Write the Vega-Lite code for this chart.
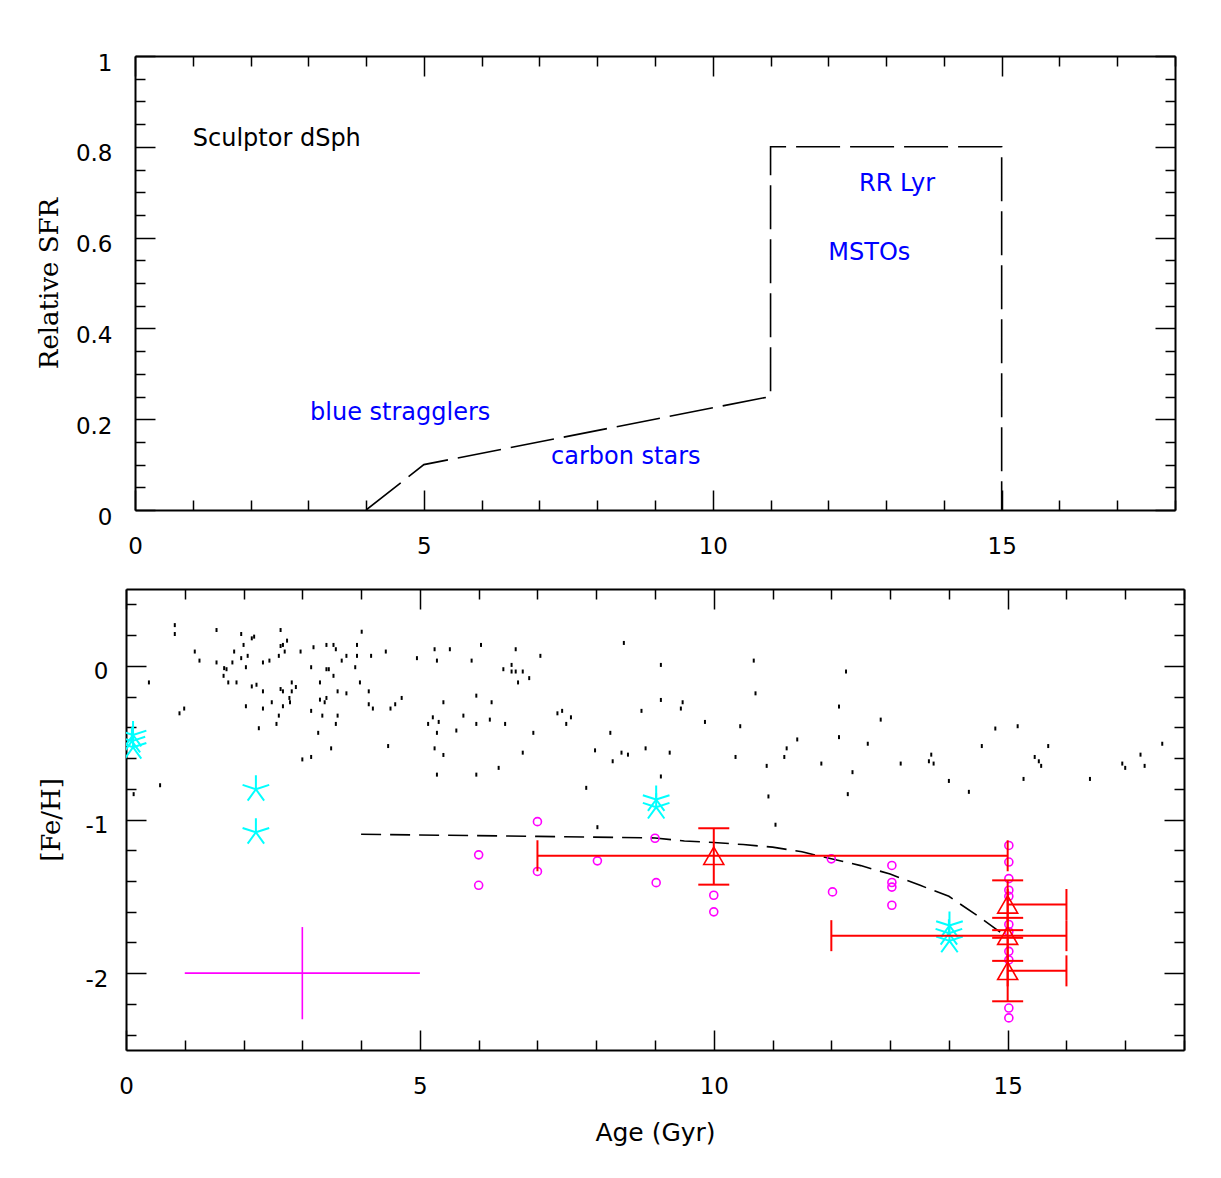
{
  "$schema": "https://vega.github.io/schema/vega-lite/v6.json",
  "background": "white",
  "padding": {"left": 36, "top": 52, "right": 10, "bottom": 10},
  "bounds": "flush",
  "spacing": 79,
  "config": {
    "view": {"stroke": null},
    "axis": {
      "grid": false,
      "domainColor": "black",
      "domainWidth": 2,
      "tickColor": "black",
      "tickWidth": 1.5,
      "labelFont": "DejaVu Sans",
      "labelFontSize": 23,
      "labelColor": "black",
      "labelOverlap": false,
      "labelFlush": false,
      "labelBound": false,
      "titleFont": "DejaVu Serif",
      "titleFontSize": 26,
      "titleFontWeight": "normal",
      "titleColor": "black"
    }
  },
  "datasets": {
    "sfr": [
      {"i": 1, "age": 4, "sfr": 0},
      {"i": 2, "age": 5, "sfr": 0.1},
      {"i": 3, "age": 11, "sfr": 0.25},
      {"i": 4, "age": 11, "sfr": 0.8},
      {"i": 5, "age": 15, "sfr": 0.8},
      {"i": 6, "age": 15, "sfr": 0}
    ],
    "bluelabels": [
      {"x": 3.03, "y": 0.22, "label": "blue stragglers"},
      {"x": 7.2, "y": 0.123, "label": "carbon stars"},
      {"x": 12.53, "y": 0.725, "label": "RR Lyr"},
      {"x": 12.0, "y": 0.573, "label": "MSTOs"}
    ],
    "blacklabels": [
      {"x": 1.0, "y": 0.824, "label": "Sculptor dSph"}
    ],
    "dots": [
      {"age":0.83,"feh":0.265},{"age":0.83,"feh":0.207},{"age":0.39,"feh":-0.108},{"age":0.91,"feh":-0.309},{"age":0.99,"feh":-0.278},{"age":0.13,"feh":-0.835},{"age":0.58,"feh":-0.777},{"age":1.17,"feh":0.093},{"age":1.25,"feh":0.034},{"age":1.54,"feh":0.233},{"age":1.54,"feh":0.022},{"age":1.66,"feh":-0.065},{"age":1.67,"feh":-0.015},{"age":1.71,"feh":-0.022},{"age":1.74,"feh":-0.108},{"age":1.81,"feh":0.022},{"age":1.84,"feh":0.093},{"age":1.88,"feh":-0.108},{"age":1.96,"feh":0.207},{"age":1.96,"feh":0.05},{"age":2.0,"feh":0.136},{"age":2.04,"feh":-0.009},{"age":2.07,"feh":0.065},{"age":2.04,"feh":-0.263},{"age":2.14,"feh":0.179},{"age":2.18,"feh":0.19},{"age":2.14,"feh":-0.134},{"age":2.22,"feh":-0.123},{"age":2.26,"feh":-0.406},{"age":2.33,"feh":0.022},{"age":2.33,"feh":-0.166},{"age":2.33,"feh":-0.278},{"age":2.44,"feh":0.034},{"age":2.48,"feh":-0.237},{"age":2.56,"feh":-0.378},{"age":2.6,"feh":-0.324},{"age":2.6,"feh":0.065},{"age":2.63,"feh":0.233},{"age":2.63,"feh":0.129},{"age":2.67,"feh":0.136},{"age":2.7,"feh":0.093},{"age":2.74,"feh":0.164},{"age":2.63,"feh":-0.151},{"age":2.67,"feh":-0.166},{"age":2.67,"feh":-0.263},{"age":2.78,"feh":-0.209},{"age":2.79,"feh":-0.237},{"age":2.82,"feh":-0.108},{"age":2.82,"feh":-0.166},{"age":2.89,"feh":-0.138},{"age":2.97,"feh":0.093},{"age":3.0,"feh":-0.609},{"age":3.15,"feh":-0.009},{"age":3.15,"feh":-0.293},{"age":3.15,"feh":-0.593},{"age":3.19,"feh":0.121},{"age":3.27,"feh":-0.436},{"age":3.3,"feh":-0.108},{"age":3.3,"feh":-0.22},{"age":3.34,"feh":-0.324},{"age":3.38,"feh":-0.237},{"age":3.41,"feh":-0.209},{"age":3.41,"feh":0.136},{"age":3.41,"feh":-0.022},{"age":3.45,"feh":-0.022},{"age":3.53,"feh":0.136},{"age":3.57,"feh":0.108},{"age":3.53,"feh":-0.065},{"age":3.49,"feh":-0.537},{"age":3.57,"feh":-0.378},{"age":3.6,"feh":-0.324},{"age":3.6,"feh":-0.166},{"age":3.67,"feh":0.034},{"age":3.75,"feh":0.065},{"age":3.75,"feh":-0.179},{"age":3.9,"feh":-0.009},{"age":3.93,"feh":0.136},{"age":3.93,"feh":0.065},{"age":3.98,"feh":-0.108},{"age":4.01,"feh":0.222},{"age":4.13,"feh":-0.166},{"age":4.13,"feh":-0.25},{"age":4.17,"feh":0.065},{"age":4.2,"feh":-0.278},{"age":4.42,"feh":0.093},{"age":4.46,"feh":-0.522},{"age":4.5,"feh":-0.278},{"age":4.58,"feh":-0.25},{"age":4.69,"feh":-0.209},{"age":4.95,"feh":0.05},{"age":5.14,"feh":-0.378},{"age":5.22,"feh":-0.335},{"age":5.25,"feh":0.108},{"age":5.29,"feh":0.034},{"age":5.29,"feh":-0.436},{"age":5.32,"feh":-0.365},{"age":5.25,"feh":-0.537},{"age":5.4,"feh":-0.58},{"age":5.29,"feh":-0.708},{"age":5.4,"feh":-0.237},{"age":5.51,"feh":0.108},{"age":5.62,"feh":-0.421},{"age":5.74,"feh":-0.324},{"age":5.88,"feh":0.034},{"age":5.96,"feh":-0.194},{"age":5.96,"feh":-0.378},{"age":5.96,"feh":-0.708},{"age":6.04,"feh":0.136},{"age":6.19,"feh":-0.35},{"age":6.22,"feh":-0.237},{"age":6.34,"feh":-0.664},{"age":6.42,"feh":-0.022},{"age":6.45,"feh":-0.378},{"age":6.56,"feh":0.006},{"age":6.56,"feh":-0.037},{"age":6.63,"feh":0.108},{"age":6.63,"feh":-0.037},{"age":6.67,"feh":-0.108},{"age":6.75,"feh":-0.037},{"age":6.75,"feh":-0.565},{"age":6.86,"feh":-0.08},{"age":6.93,"feh":-0.436},{"age":7.05,"feh":0.065},
      {"age":7.34,"feh":-0.309},{"age":7.42,"feh":-0.293},{"age":7.49,"feh":-0.378},{"age":7.57,"feh":-0.335},{"age":7.83,"feh":-0.794},{"age":7.98,"feh":-0.55},{"age":8.02,"feh":-1.05},{"age":8.24,"feh":-0.436},{"age":8.28,"feh":-0.621},{"age":8.43,"feh":-0.565},{"age":8.47,"feh":0.149},{"age":8.54,"feh":-0.578},{"age":8.77,"feh":-0.293},{"age":8.84,"feh":-0.537},{"age":9.1,"feh":0.006},{"age":9.1,"feh":-0.222},{"age":9.1,"feh":-0.72},{"age":9.25,"feh":-0.565},{"age":9.44,"feh":-0.278},{"age":9.47,"feh":-0.237},{"age":9.85,"feh":-0.365},{"age":10.37,"feh":-0.593},{"age":10.45,"feh":-0.393},{"age":10.68,"feh":0.034},{"age":10.71,"feh":-0.179},{"age":10.9,"feh":-0.651},{"age":10.93,"feh":-0.85},{"age":11.05,"feh":-1.034},{"age":11.2,"feh":-0.593},{"age":11.24,"feh":-0.537},{"age":11.42,"feh":-0.479},{"age":11.83,"feh":-0.636},{"age":12.13,"feh":-0.265},{"age":12.13,"feh":-0.464},{"age":12.25,"feh":-0.037},{"age":12.28,"feh":-0.835},{"age":12.36,"feh":-0.692},{"age":12.62,"feh":-0.507},{"age":12.84,"feh":-0.35},
      {"age":13.18,"feh":-0.636},{"age":13.66,"feh":-0.621},{"age":13.7,"feh":-0.578},{"age":13.74,"feh":-0.636},{"age":14.0,"feh":-0.749},{"age":14.34,"feh":-0.82},{"age":14.56,"feh":-0.522},{"age":14.79,"feh":-0.408},{"age":15.17,"feh":-0.393},{"age":15.27,"feh":-0.736},{"age":15.46,"feh":-0.593},{"age":15.53,"feh":-0.621},{"age":15.57,"feh":-0.651},{"age":15.69,"feh":-0.522},{"age":16.4,"feh":-0.736},{"age":16.95,"feh":-0.636},{"age":17.0,"feh":-0.664},{"age":17.26,"feh":-0.578},{"age":17.33,"feh":-0.651},{"age":17.63,"feh":-0.507}
    ],
    "model": [
      {"i":1,"age":4,"feh":-1.096},{"i":2,"age":7,"feh":-1.11},{"i":3,"age":9,"feh":-1.12},{"i":4,"age":9.5,"feh":-1.14},{"i":5,"age":10,"feh":-1.15},{"i":6,"age":10.5,"feh":-1.163},{"i":7,"age":11,"feh":-1.18},{"i":8,"age":11.5,"feh":-1.21},{"i":9,"age":12,"feh":-1.256},{"i":10,"age":12.5,"feh":-1.3},{"i":11,"age":13,"feh":-1.355},{"i":12,"age":13.5,"feh":-1.427},{"i":13,"age":14,"feh":-1.5},{"i":14,"age":14.5,"feh":-1.63},{"i":15,"age":14.95,"feh":-1.755}
    ],
    "stars": [
      {"age":0.12,"feh":-0.45},{"age":0.1,"feh":-0.49},{"age":0.12,"feh":-0.53},{"age":2.21,"feh":-0.803},{"age":2.21,"feh":-1.083},{"age":9.02,"feh":-0.87},{"age":9.02,"feh":-0.92},{"age":14.01,"feh":-1.69},{"age":14.0,"feh":-1.74},{"age":14.01,"feh":-1.79}
    ],
    "circles": [
      {"age":6.0,"feh":-1.23},{"age":6.0,"feh":-1.428},{"age":7.0,"feh":-1.014},{"age":7.0,"feh":-1.338},{"age":8.02,"feh":-1.269},{"age":9.0,"feh":-1.122},{"age":9.02,"feh":-1.411},{"age":10.0,"feh":-1.493},{"age":10.0,"feh":-1.601},{"age":12.0,"feh":-1.256},{"age":12.02,"feh":-1.471},{"age":13.03,"feh":-1.299},{"age":13.03,"feh":-1.41},{"age":13.03,"feh":-1.44},{"age":13.03,"feh":-1.558},
      {"age":15.02,"feh":-1.169},{"age":15.02,"feh":-1.277},{"age":15.02,"feh":-1.385},{"age":15.02,"feh":-1.46},{"age":15.02,"feh":-1.5},{"age":15.02,"feh":-1.683},{"age":15.02,"feh":-1.73},{"age":15.02,"feh":-1.858},{"age":15.02,"feh":-1.914},{"age":15.02,"feh":-2.227},{"age":15.02,"feh":-2.291}
    ],
    "cross": [
      {"age":3,"feh":-2,"agelo":1,"agehi":5,"fehlo":-2.3,"fehhi":-1.7}
    ],
    "redbars": [
      {"age":10,"feh":-1.236,"agelo":7,"agehi":15,"fehlo":-1.424,"fehhi":-1.057},
      {"age":15,"feh":-1.756,"agelo":12,"agehi":16,"fehlo":-1.92,"fehhi":-1.64},
      {"age":15,"feh":-1.553,"agelo":15,"agehi":16,"fehlo":-1.72,"fehhi":-1.396},
      {"age":15,"feh":-1.985,"agelo":15,"agehi":16,"fehlo":-2.183,"fehhi":-1.77}
    ]
  },
  "vconcat": [
    {
      "width": 1049,
      "height": 454,
      "resolve": {"axis": {"x": "independent", "y": "independent"}},
      "layer": [
        {
          "data": {"name": "sfr"},
          "mark": {"type": "line", "color": "black", "strokeWidth": 1.6, "strokeDash": [44, 10]},
          "encoding": {
            "x": {
              "field": "age", "type": "quantitative",
              "scale": {"domain": [0, 18], "range": [9, 1049], "nice": false, "zero": false},
              "axis": {
                "orient": "bottom", "title": null,
                "values": [0,1,2,3,4,5,6,7,8,9,10,11,12,13,14,15,16,17,18],
                "tickSize": {"condition": {"test": "datum.value % 5 === 0", "value": -20}, "value": -10},
                "labelExpr": "datum.value % 5 === 0 ? '' + datum.value : ''",
                "labelPadding": 45, "labelAlign": "center", "labelBaseline": "top"
              }
            },
            "y": {
              "field": "sfr", "type": "quantitative",
              "scale": {"domain": [0, 1], "nice": false, "zero": false},
              "axis": {
                "orient": "left", "offset": -9, "title": "Relative SFR", "titlePadding": 13,
                "values": [0,0.05,0.1,0.15,0.2,0.25,0.3,0.35,0.4,0.45,0.5,0.55,0.6,0.65,0.7,0.75,0.8,0.85,0.9,0.95,1],
                "tickSize": {"condition": {"test": "abs(datum.value*5 - round(datum.value*5)) < 0.001", "value": -20}, "value": -10},
                "labelExpr": "abs(datum.value*5 - round(datum.value*5)) < 0.001 ? '' + datum.value : ''",
                "labelPadding": 43, "labelOffset": 7, "labelAlign": "right", "labelBaseline": "middle"
              }
            },
            "order": {"field": "i", "type": "quantitative"}
          }
        },
        {
          "data": {"name": "bluelabels"},
          "mark": {"type": "text", "align": "left", "baseline": "middle", "dy": 3, "font": "DejaVu Sans", "fontSize": 24, "color": "#0000ff"},
          "encoding": {
            "x": {
              "field": "x", "type": "quantitative",
              "axis": {
                "orient": "top", "title": null, "labels": false,
                "values": [0,1,2,3,4,5,6,7,8,9,10,11,12,13,14,15,16,17,18],
                "tickSize": {"condition": {"test": "datum.value % 5 === 0", "value": -20}, "value": -10}
              }
            },
            "y": {
              "field": "y", "type": "quantitative",
              "axis": {
                "orient": "right", "title": null, "labels": false,
                "values": [0,0.05,0.1,0.15,0.2,0.25,0.3,0.35,0.4,0.45,0.5,0.55,0.6,0.65,0.7,0.75,0.8,0.85,0.9,0.95,1],
                "tickSize": {"condition": {"test": "abs(datum.value*5 - round(datum.value*5)) < 0.001", "value": -20}, "value": -10}
              }
            },
            "text": {"field": "label"}
          }
        },
        {
          "data": {"name": "blacklabels"},
          "mark": {"type": "text", "align": "left", "baseline": "middle", "dy": 3, "font": "DejaVu Sans", "fontSize": 24, "color": "black"},
          "encoding": {
            "x": {"field": "x", "type": "quantitative", "axis": null},
            "y": {"field": "y", "type": "quantitative", "axis": null},
            "text": {"field": "label"}
          }
        }
      ]
    },
    {
      "width": 1058,
      "height": 461,
      "resolve": {"axis": {"x": "independent", "y": "independent"}},
      "layer": [
        {
          "data": {"name": "dots"},
          "mark": {"type": "point", "shape": "M-0.5,-1H0.5V1H-0.5Z", "filled": true, "color": "black", "opacity": 1, "size": 16},
          "encoding": {
            "x": {
              "field": "age", "type": "quantitative",
              "scale": {"domain": [0, 18], "nice": false, "zero": false},
              "axis": {
                "orient": "bottom", "title": "Age (Gyr)", "titleFont": "DejaVu Sans", "titleFontSize": 25, "titlePadding": 12,
                "values": [0,1,2,3,4,5,6,7,8,9,10,11,12,13,14,15,16,17,18],
                "tickSize": {"condition": {"test": "datum.value % 5 === 0", "value": -20}, "value": -10},
                "labelExpr": "datum.value % 5 === 0 ? '' + datum.value : ''",
                "labelPadding": 45, "labelAlign": "center", "labelBaseline": "top"
              }
            },
            "y": {
              "field": "feh", "type": "quantitative",
              "scale": {"domain": [-2.5, 0.5], "nice": false, "zero": false},
              "axis": {
                "orient": "left", "title": "[Fe/H]", "titlePadding": 21,
                "values": [-2.4,-2.2,-2,-1.8,-1.6,-1.4,-1.2,-1,-0.8,-0.6,-0.4,-0.2,0,0.2,0.4],
                "tickSize": {"condition": {"test": "datum.value % 1 === 0", "value": -20}, "value": -10},
                "labelExpr": "datum.value % 1 === 0 ? '' + datum.value : ''",
                "labelPadding": 38, "labelOffset": 6, "labelAlign": "right", "labelBaseline": "middle"
              }
            }
          }
        },
        {
          "data": {"name": "model"},
          "mark": {"type": "line", "color": "black", "strokeWidth": 1.6, "strokeDash": [20, 9]},
          "encoding": {
            "x": {
              "field": "age", "type": "quantitative",
              "axis": {
                "orient": "top", "title": null, "labels": false,
                "values": [0,1,2,3,4,5,6,7,8,9,10,11,12,13,14,15,16,17,18],
                "tickSize": {"condition": {"test": "datum.value % 5 === 0", "value": -20}, "value": -10}
              }
            },
            "y": {
              "field": "feh", "type": "quantitative",
              "axis": {
                "orient": "right", "title": null, "labels": false,
                "values": [-2.4,-2.2,-2,-1.8,-1.6,-1.4,-1.2,-1,-0.8,-0.6,-0.4,-0.2,0,0.2,0.4],
                "tickSize": {"condition": {"test": "datum.value % 1 === 0", "value": -20}, "value": -10}
              }
            },
            "order": {"field": "i", "type": "quantitative"}
          }
        },
        {
          "data": {"name": "circles"},
          "mark": {"type": "point", "shape": "circle", "filled": false, "color": "#ff00ff", "opacity": 1, "size": 64, "strokeWidth": 1.6},
          "encoding": {
            "x": {"field": "age", "type": "quantitative", "axis": null},
            "y": {"field": "feh", "type": "quantitative", "axis": null}
          }
        },
        {
          "data": {"name": "stars"},
          "mark": {"type": "point", "shape": "M0,0L0,-1M0,0L0.951,-0.309M0,0L0.588,0.809M0,0L-0.588,0.809M0,0L-0.951,-0.309", "filled": false, "color": "#00ffff", "opacity": 1, "size": 784, "strokeWidth": 2, "clip": true},
          "encoding": {
            "x": {"field": "age", "type": "quantitative", "axis": null},
            "y": {"field": "feh", "type": "quantitative", "axis": null}
          }
        },
        {
          "data": {"name": "cross"},
          "mark": {"type": "rule", "color": "#ff00ff", "strokeWidth": 1.6},
          "encoding": {
            "x": {"field": "agelo", "type": "quantitative", "axis": null},
            "x2": {"field": "agehi"},
            "y": {"field": "feh", "type": "quantitative", "axis": null}
          }
        },
        {
          "data": {"name": "cross"},
          "mark": {"type": "rule", "color": "#ff00ff", "strokeWidth": 1.6},
          "encoding": {
            "x": {"field": "age", "type": "quantitative", "axis": null},
            "y": {"field": "fehlo", "type": "quantitative", "axis": null},
            "y2": {"field": "fehhi"}
          }
        },
        {
          "data": {"name": "redbars"},
          "mark": {"type": "rule", "color": "#ff0000", "strokeWidth": 2},
          "encoding": {
            "x": {"field": "agelo", "type": "quantitative", "axis": null},
            "x2": {"field": "agehi"},
            "y": {"field": "feh", "type": "quantitative", "axis": null}
          }
        },
        {
          "data": {"name": "redbars"},
          "mark": {"type": "rule", "color": "#ff0000", "strokeWidth": 2},
          "encoding": {
            "x": {"field": "age", "type": "quantitative", "axis": null},
            "y": {"field": "fehlo", "type": "quantitative", "axis": null},
            "y2": {"field": "fehhi"}
          }
        },
        {
          "data": {"name": "redbars"},
          "mark": {"type": "tick", "orient": "vertical", "size": 31, "thickness": 2, "color": "#ff0000", "opacity": 1},
          "encoding": {
            "x": {"field": "agelo", "type": "quantitative", "axis": null},
            "y": {"field": "feh", "type": "quantitative", "axis": null}
          }
        },
        {
          "data": {"name": "redbars"},
          "mark": {"type": "tick", "orient": "vertical", "size": 31, "thickness": 2, "color": "#ff0000", "opacity": 1},
          "encoding": {
            "x": {"field": "agehi", "type": "quantitative", "axis": null},
            "y": {"field": "feh", "type": "quantitative", "axis": null}
          }
        },
        {
          "data": {"name": "redbars"},
          "mark": {"type": "tick", "orient": "horizontal", "size": 31, "thickness": 2, "color": "#ff0000", "opacity": 1},
          "encoding": {
            "x": {"field": "age", "type": "quantitative", "axis": null},
            "y": {"field": "fehlo", "type": "quantitative", "axis": null}
          }
        },
        {
          "data": {"name": "redbars"},
          "mark": {"type": "tick", "orient": "horizontal", "size": 31, "thickness": 2, "color": "#ff0000", "opacity": 1},
          "encoding": {
            "x": {"field": "age", "type": "quantitative", "axis": null},
            "y": {"field": "fehhi", "type": "quantitative", "axis": null}
          }
        },
        {
          "data": {"name": "redbars"},
          "mark": {"type": "point", "shape": "triangle-up", "filled": false, "color": "#ff0000", "opacity": 1, "size": 400, "strokeWidth": 1.6},
          "encoding": {
            "x": {"field": "age", "type": "quantitative", "axis": null},
            "y": {"field": "feh", "type": "quantitative", "axis": null}
          }
        }
      ]
    }
  ]
}
